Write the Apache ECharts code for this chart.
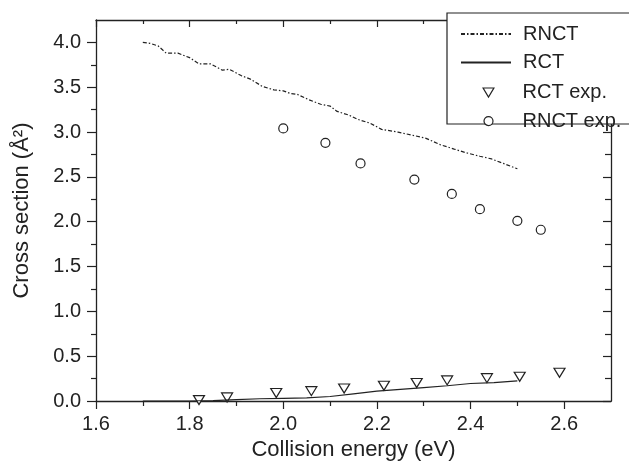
<!DOCTYPE html>
<html><head><meta charset="utf-8">
<script src="https://cdn.jsdelivr.net/npm/echarts@6/dist/echarts.min.js"></script>
<style>html,body{margin:0;padding:0;background:#fff}#c{width:629px;height:469px}</style>
</head><body><div id="c"></div>
<script>
// ---- data ----
const rnctX = [1.70,1.715,1.733,1.75,1.775,1.80,1.82,1.845,1.87,1.885,1.91,1.93,1.955,1.98,2.00,2.015,2.03,2.055,2.08,2.10,2.115,2.14,2.16,2.185,2.21,2.245,2.28,2.305,2.335,2.365,2.39,2.42,2.445,2.47,2.50];
const rnctY = [4.00,3.99,3.96,3.88,3.88,3.83,3.76,3.76,3.69,3.70,3.63,3.59,3.51,3.47,3.46,3.43,3.42,3.36,3.31,3.29,3.23,3.19,3.14,3.10,3.03,3.00,2.96,2.93,2.86,2.81,2.77,2.73,2.70,2.65,2.59];
const rctX = [1.70,1.75,1.80,1.85,1.90,1.95,2.00,2.05,2.10,2.15,2.20,2.25,2.30,2.35,2.40,2.45,2.50];
const rctY = [0,0,0,0.005,0.015,0.025,0.03,0.035,0.05,0.08,0.11,0.13,0.15,0.17,0.195,0.205,0.225];
const rctExpX = [1.82,1.88,1.985,2.06,2.13,2.215,2.285,2.35,2.435,2.505,2.59];
const rctExpY = [0.01,0.04,0.09,0.11,0.14,0.17,0.20,0.23,0.255,0.27,0.315];
const rnctExpX = [2.00,2.09,2.165,2.28,2.36,2.42,2.50,2.55];
const rnctExpY = [3.04,2.88,2.65,2.47,2.31,2.14,2.01,1.91];
const seriesNames = ['RNCT','RCT','RCT exp.','RNCT exp.'];
const xMajorTicks = [1.6,1.8,2.0,2.2,2.4,2.6];
const xMinorTicks = [1.7,1.9,2.1,2.3,2.5];
const yMajorTicks = [0.0,0.5,1.0,1.5,2.0,2.5,3.0,3.5,4.0];
const yMinorTicks = [0.25,0.75,1.25,1.75,2.25,2.75,3.25,3.75];
const xTitle = 'Collision energy (eV)';
const yTitle = 'Cross section (Å²)';
const xRange = [1.6, 2.7];
const yRange = [0, 4.25];

// ---- chart ----
const INK = '#222';
const FONT = 'Liberation Sans';
const FS = 20;
const NFS = 22;
const DOWN_TRI = 'path://M0,0L12,0L6,10Z';
const zip = (a, b) => a.map((v, i) => [v, b[i]]);

function axis(kind, pos, ticks, len, inside, opts) {
  const base = {
    type: 'value', position: pos,
    min: kind === 'x' ? xRange[0] : yRange[0],
    max: kind === 'x' ? xRange[1] : yRange[1],
    splitLine: {show: false},
    axisLine: {show: false, onZero: false, lineStyle: {color: INK, width: 1.3}},
    axisTick: {show: true, inside: inside, length: len, customValues: ticks, lineStyle: {color: INK, width: 1.2}},
    axisLabel: {show: false}
  };
  return Object.assign(base, opts || {});
}

const labelStyle = {fontFamily: FONT, fontSize: FS, color: INK};

const option = {
  animation: false,
  backgroundColor: '#fff',
  grid: {left: 96, right: 18, top: 20, bottom: 68, containLabel: false},
  xAxis: [
    axis('x', 'bottom', xMajorTicks, 8, false, {
      axisLine: {show: true, onZero: false, lineStyle: {color: INK, width: 1.3}},
      axisLabel: Object.assign({show: true, margin: 13, customValues: xMajorTicks, formatter: v => v.toFixed(1)}, labelStyle),
      name: xTitle, nameLocation: 'middle', nameGap: 35,
      nameTextStyle: {fontFamily: FONT, fontSize: NFS, color: INK}
    }),
    axis('x', 'bottom', xMinorTicks, 5, false),
    axis('x', 'top', xMajorTicks, 7, true, {
      axisLine: {show: true, onZero: false, lineStyle: {color: INK, width: 1.3}}
    }),
    axis('x', 'top', xMinorTicks, 4, true)
  ],
  yAxis: [
    axis('y', 'left', yMajorTicks, 9, false, {
      axisLine: {show: true, onZero: false, lineStyle: {color: INK, width: 1.3}},
      axisLabel: Object.assign({show: true, margin: 15, customValues: yMajorTicks, formatter: v => v.toFixed(1)}, labelStyle),
      name: yTitle, nameLocation: 'middle', nameGap: 63, nameRotate: 90,
      nameTextStyle: {fontFamily: FONT, fontSize: NFS, color: INK}
    }),
    axis('y', 'left', yMinorTicks, 5, false),
    axis('y', 'right', yMajorTicks, 8, true, {
      axisLine: {show: true, onZero: false, lineStyle: {color: INK, width: 1.3}}
    }),
    axis('y', 'right', yMinorTicks, 6, true)
  ],
  graphic: [{
    type: 'rect', z: 100,
    shape: {x: 447, y: 13, width: 220, height: 111},
    style: {fill: '#fff', stroke: INK, lineWidth: 1.2}
  }],
  legend: [
    {
      z: 110, orient: 'vertical',
      data: [
        {name: seriesNames[0], itemStyle: {opacity: 0}},
        {name: seriesNames[1], itemStyle: {opacity: 0}}
      ],
      left: 460, top: 24, itemWidth: 50, itemHeight: 14, itemGap: 8.6, padding: 0,
      textStyle: {fontFamily: FONT, fontSize: FS, color: INK, padding: [0, 0, 0, 7]}
    },
    {
      z: 110, orient: 'vertical',
      itemStyle: {color: '#fff', borderColor: INK, borderWidth: 1.2},
      data: [
        {name: seriesNames[2], icon: DOWN_TRI},
        {name: seriesNames[3], icon: 'circle'}
      ],
      left: 482.5, top: 82.5, itemWidth: 11, itemHeight: 9, itemGap: 8.6, padding: 0,
      textStyle: {fontFamily: FONT, fontSize: FS, color: INK, padding: [0, 0, 0, 23.5]}
    }
  ],
  series: [
    {
      name: seriesNames[0], type: 'line', symbol: 'none', data: zip(rnctX, rnctY),
      lineStyle: {color: INK, width: 1.2, type: [4, 2, 1.5, 2]}, itemStyle: {color: INK}
    },
    {
      name: seriesNames[1], type: 'line', symbol: 'none', data: zip(rctX, rctY),
      lineStyle: {color: INK, width: 1.2}, itemStyle: {color: INK}
    },
    {
      name: seriesNames[2], type: 'scatter', symbol: DOWN_TRI, symbolSize: [11, 9],
      data: zip(rctExpX, rctExpY),
      itemStyle: {color: '#fff', borderColor: INK, borderWidth: 1.2, opacity: 1}
    },
    {
      name: seriesNames[3], type: 'scatter', symbol: 'circle', symbolSize: 9,
      data: zip(rnctExpX, rnctExpY),
      itemStyle: {color: '#fff', borderColor: INK, borderWidth: 1.2, opacity: 1}
    }
  ]
};
const chart = echarts.init(document.getElementById('c'), null, {renderer: 'canvas'});
chart.setOption(option);
</script></body></html>
